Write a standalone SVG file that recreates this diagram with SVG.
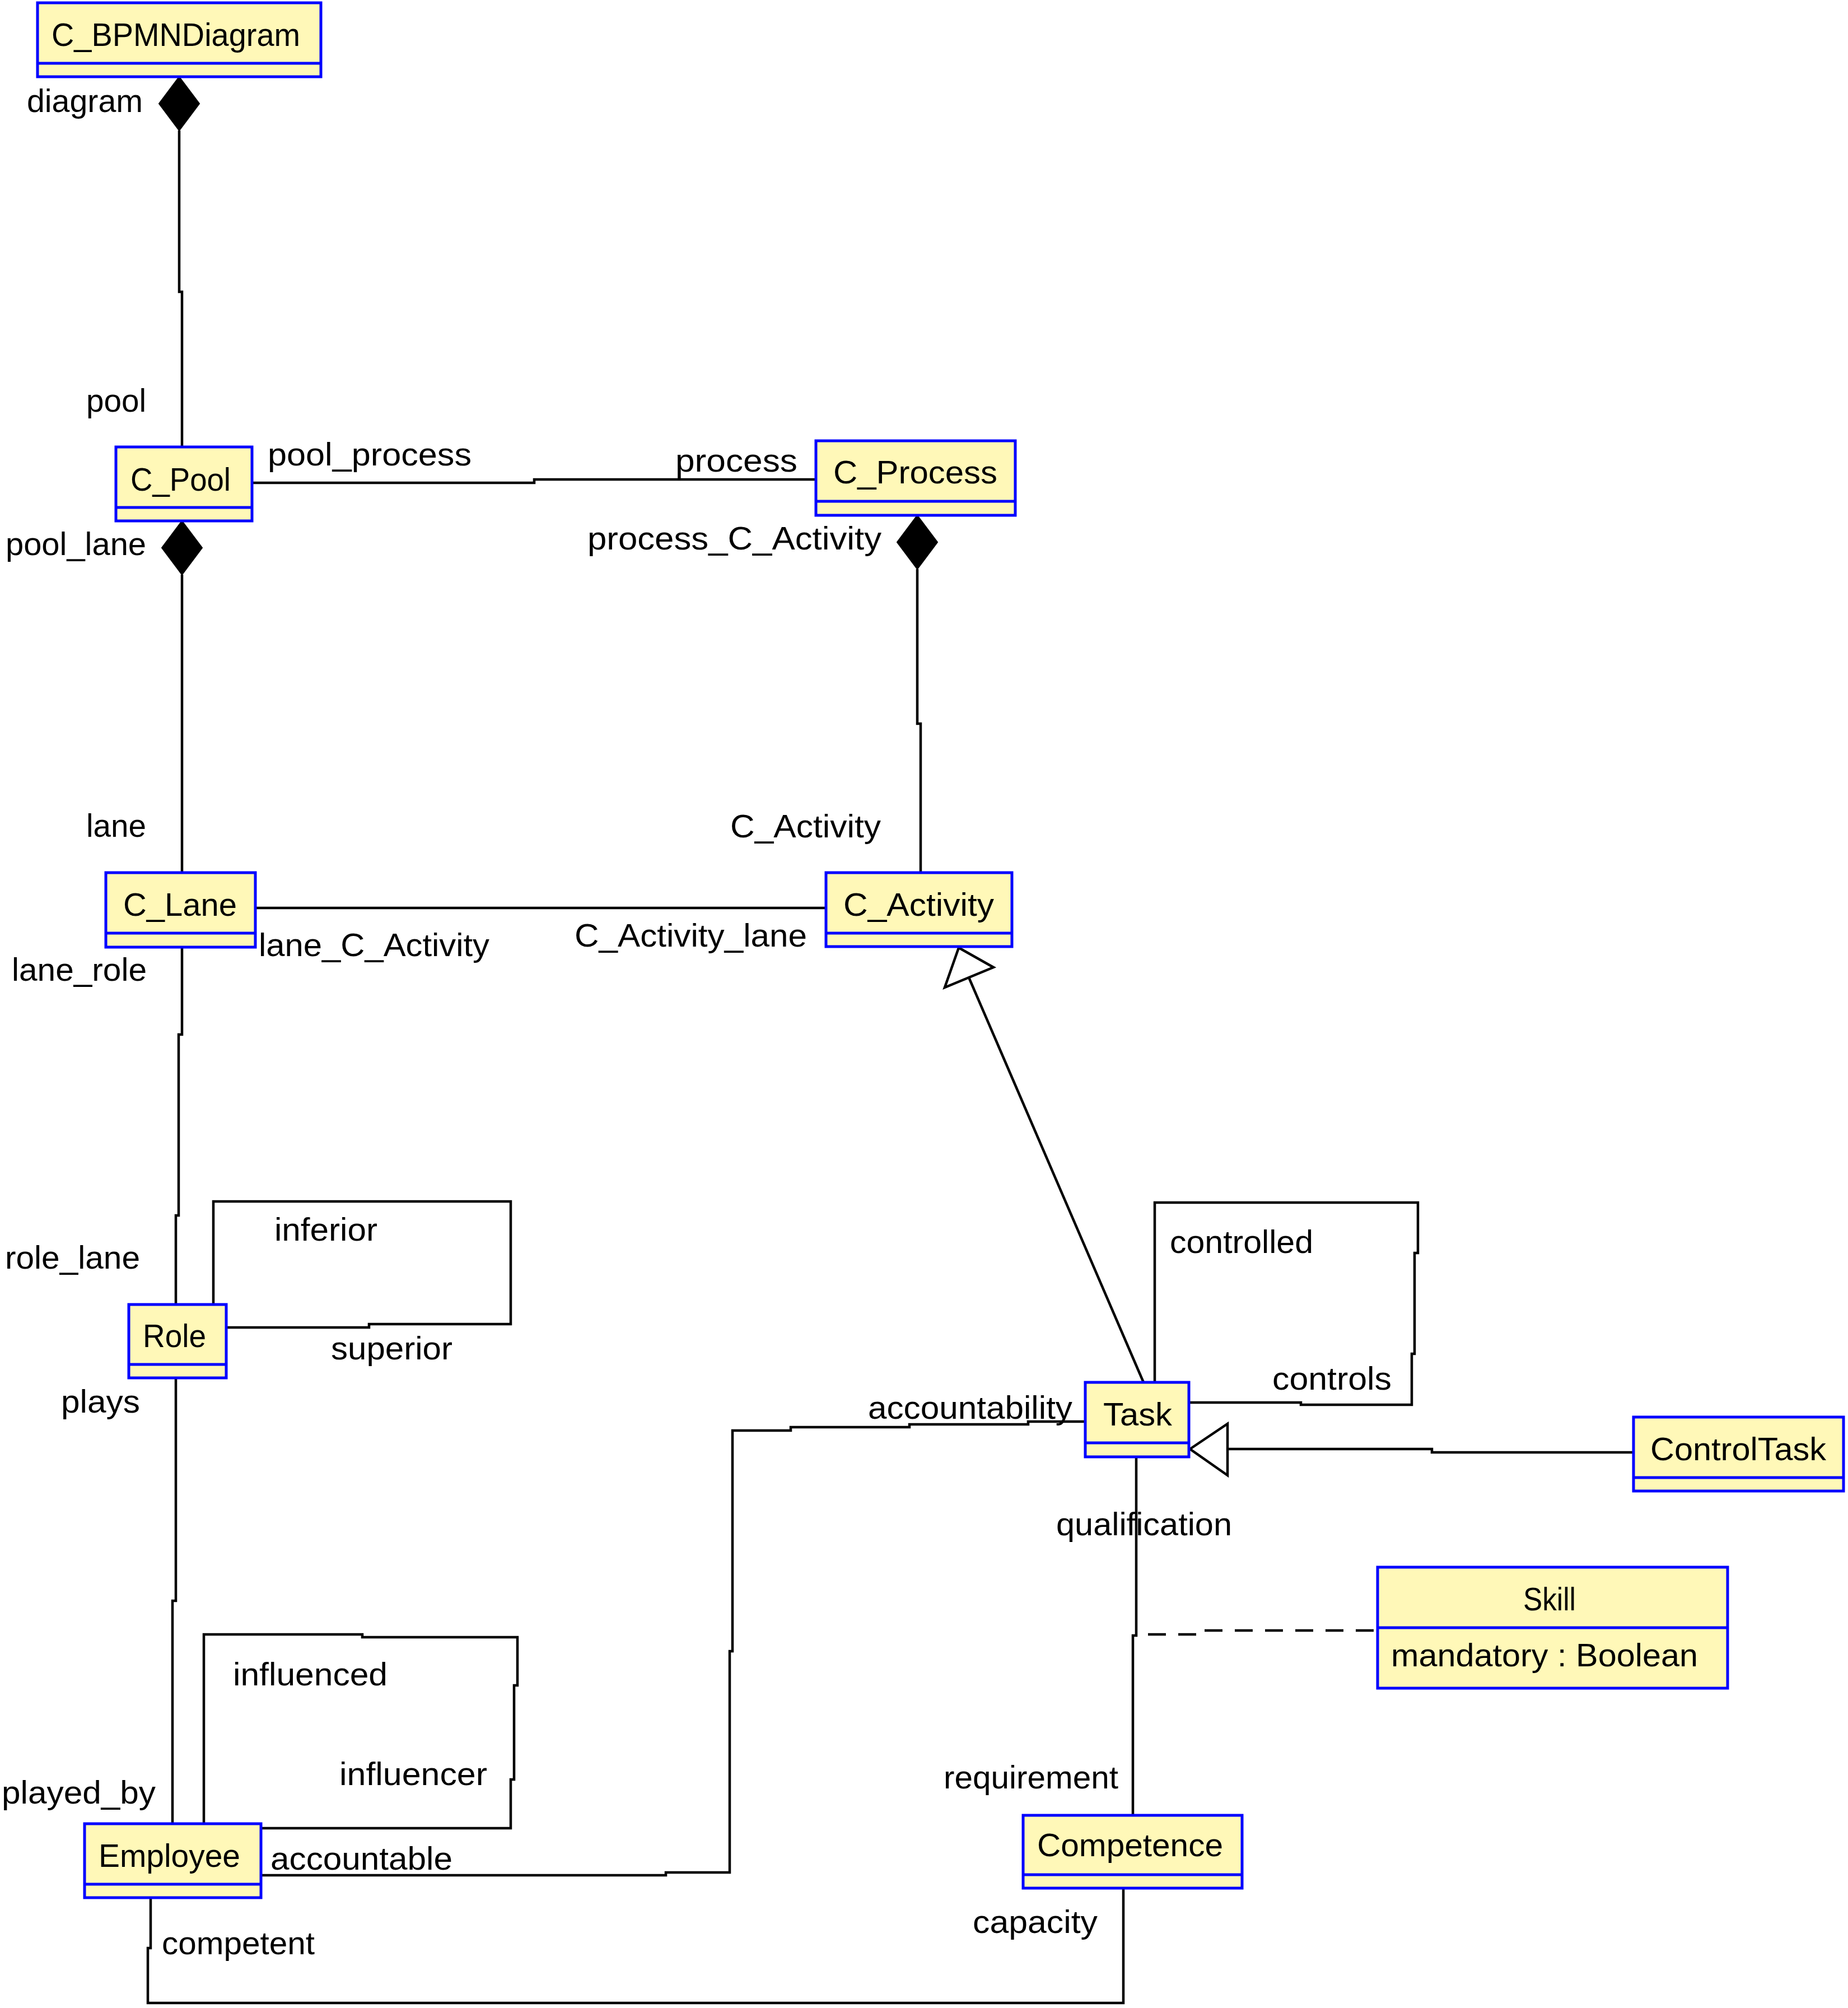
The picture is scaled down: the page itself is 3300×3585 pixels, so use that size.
<svg xmlns="http://www.w3.org/2000/svg" width="3300" height="3585" viewBox="0 0 3300 3585">
<style>
.box{fill:#FFF8B8;stroke:#0000FF;stroke-width:5}
.div{stroke:#0000FF;stroke-width:5}
.t{font-family:"Liberation Sans",Arial,sans-serif;font-size:58px;fill:#000}
.c{fill:none;stroke:#000;stroke-width:4.5}
.dash{fill:none;stroke:#000;stroke-width:4.5;stroke-dasharray:32 22}
.dia{fill:#000;stroke:#000;stroke-width:2}
.tri{fill:#fff;stroke:#000;stroke-width:4.5}
</style>
<rect width="3300" height="3585" fill="#fff"/>
<g id="connectors">
<path class="c" d="M320,233 V521 H325 V798"/>
<polygon class="dia" points="320,137 356,185 320,233 284,185"/>
<path class="c" d="M450,862 H954 V856 H1457"/>
<path class="c" d="M325,1026 V1558"/>
<polygon class="dia" points="325,930 361,978 325,1026 289,978"/>
<path class="c" d="M1638,1016 V1292 H1644 V1558"/>
<polygon class="dia" points="1638,920 1674,968 1638,1016 1602,968"/>
<path class="c" d="M456,1621 H1475"/>
<path class="c" d="M325,1691 V1847 H319 V2170 H314 V2329"/>
<path class="c" d="M381,2329 V2145 H912 V2364 H659 V2370 H404"/>
<path class="c" d="M314,2461 V2858 H308 V3256"/>
<path class="c" d="M364,3256 V2918 H647 V2923 H924 V3009 H918 V3177 H912 V3264 H466"/>
<path class="c" d="M466,3348 H1189 V3343 H1303 V2948 H1308 V2554 H1412 V2548 H1624 V2543 H1836 V2538 H1938"/>
<path class="c" d="M269,3388 V3478 H264 V3576 H2006 V3371"/>
<path class="c" d="M2062,2468 V2147 H2532 V2237 H2526 V2417 H2521 V2508 H2323 V2504 H2123"/>
<path class="c" d="M2029,2601 V2920 H2023 V3241"/>
<path class="dash" d="M2050,2918 H2150 V2911 H2460"/>
<path class="c" d="M2042,2468 L1730,1745"/>
<polygon class="tri" points="1712,1692 1774,1727 1687,1763"/>
<path class="c" d="M2917,2593 H2557 V2587 H2192"/>
<polygon class="tri" points="2125,2587 2192,2542 2192,2634"/>
</g>
<g id="labels">
<text class="t" x="48" y="200" textLength="207" lengthAdjust="spacingAndGlyphs">diagram</text>
<text class="t" x="154" y="735" textLength="107" lengthAdjust="spacingAndGlyphs">pool</text>
<text class="t" x="478" y="831" textLength="364" lengthAdjust="spacingAndGlyphs">pool_process</text>
<text class="t" x="1206" y="842" textLength="218" lengthAdjust="spacingAndGlyphs">process</text>
<text class="t" x="10" y="991" textLength="251" lengthAdjust="spacingAndGlyphs">pool_lane</text>
<text class="t" x="1049" y="981" textLength="525" lengthAdjust="spacingAndGlyphs">process_C_Activity</text>
<text class="t" x="154" y="1494" textLength="107" lengthAdjust="spacingAndGlyphs">lane</text>
<text class="t" x="1304" y="1495" textLength="269" lengthAdjust="spacingAndGlyphs">C_Activity</text>
<text class="t" x="462" y="1707" textLength="412" lengthAdjust="spacingAndGlyphs">lane_C_Activity</text>
<text class="t" x="1026" y="1690" textLength="415" lengthAdjust="spacingAndGlyphs">C_Activity_lane</text>
<text class="t" x="21" y="1751" textLength="241" lengthAdjust="spacingAndGlyphs">lane_role</text>
<text class="t" x="490" y="2215" textLength="184" lengthAdjust="spacingAndGlyphs">inferior</text>
<text class="t" x="9" y="2265" textLength="241" lengthAdjust="spacingAndGlyphs">role_lane</text>
<text class="t" x="591" y="2427" textLength="217" lengthAdjust="spacingAndGlyphs">superior</text>
<text class="t" x="109" y="2522" textLength="141" lengthAdjust="spacingAndGlyphs">plays</text>
<text class="t" x="416" y="3009" textLength="276" lengthAdjust="spacingAndGlyphs">influenced</text>
<text class="t" x="606" y="3187" textLength="264" lengthAdjust="spacingAndGlyphs">influencer</text>
<text class="t" x="3" y="3220" textLength="275" lengthAdjust="spacingAndGlyphs">played_by</text>
<text class="t" x="483" y="3338" textLength="325" lengthAdjust="spacingAndGlyphs">accountable</text>
<text class="t" x="289" y="3489" textLength="273" lengthAdjust="spacingAndGlyphs">competent</text>
<text class="t" x="2089" y="2237" textLength="256" lengthAdjust="spacingAndGlyphs">controlled</text>
<text class="t" x="2272" y="2481" textLength="213" lengthAdjust="spacingAndGlyphs">controls</text>
<text class="t" x="1550" y="2533" textLength="365" lengthAdjust="spacingAndGlyphs">accountability</text>
<text class="t" x="1886" y="2741" textLength="314" lengthAdjust="spacingAndGlyphs">qualification</text>
<text class="t" x="1685" y="3193" textLength="312" lengthAdjust="spacingAndGlyphs">requirement</text>
<text class="t" x="1737" y="3451" textLength="223" lengthAdjust="spacingAndGlyphs">capacity</text>
</g>
<g id="C_BPMNDiagram">
<rect class="box" x="67" y="5" width="506" height="132"/>
<line class="div" x1="67" y1="113" x2="573" y2="113"/>
<text class="t" x="92" y="82" textLength="444" lengthAdjust="spacingAndGlyphs">C_BPMNDiagram</text>
</g>
<g id="C_Pool">
<rect class="box" x="207" y="798" width="243" height="132"/>
<line class="div" x1="207" y1="906" x2="450" y2="906"/>
<text class="t" x="233" y="876" textLength="179" lengthAdjust="spacingAndGlyphs">C_Pool</text>
</g>
<g id="C_Process">
<rect class="box" x="1457" y="787" width="356" height="133"/>
<line class="div" x1="1457" y1="895" x2="1813" y2="895"/>
<text class="t" x="1488" y="863" textLength="293" lengthAdjust="spacingAndGlyphs">C_Process</text>
</g>
<g id="C_Lane">
<rect class="box" x="189" y="1558" width="267" height="133"/>
<line class="div" x1="189" y1="1666" x2="456" y2="1666"/>
<text class="t" x="220" y="1635" textLength="203" lengthAdjust="spacingAndGlyphs">C_Lane</text>
</g>
<g id="C_Activity">
<rect class="box" x="1475" y="1558" width="332" height="132"/>
<line class="div" x1="1475" y1="1666" x2="1807" y2="1666"/>
<text class="t" x="1506" y="1635" textLength="269" lengthAdjust="spacingAndGlyphs">C_Activity</text>
</g>
<g id="Role">
<rect class="box" x="230" y="2329" width="174" height="131"/>
<line class="div" x1="230" y1="2436" x2="404" y2="2436"/>
<text class="t" x="255" y="2405" textLength="113" lengthAdjust="spacingAndGlyphs">Role</text>
</g>
<g id="Employee">
<rect class="box" x="151" y="3256" width="315" height="132"/>
<line class="div" x1="151" y1="3364" x2="466" y2="3364"/>
<text class="t" x="176" y="3333" textLength="253" lengthAdjust="spacingAndGlyphs">Employee</text>
</g>
<g id="Task">
<rect class="box" x="1938" y="2468" width="185" height="133"/>
<line class="div" x1="1938" y1="2576" x2="2123" y2="2576"/>
<text class="t" x="1970" y="2545" textLength="123" lengthAdjust="spacingAndGlyphs">Task</text>
</g>
<g id="ControlTask">
<rect class="box" x="2917" y="2530" width="375" height="132"/>
<line class="div" x1="2917" y1="2638" x2="3292" y2="2638"/>
<text class="t" x="2947" y="2607" textLength="314" lengthAdjust="spacingAndGlyphs">ControlTask</text>
</g>
<g id="Skill">
<rect class="box" x="2460" y="2798" width="625" height="216"/>
<line class="div" x1="2460" y1="2906" x2="3085" y2="2906"/>
<text class="t" x="2720" y="2875" textLength="94" lengthAdjust="spacingAndGlyphs">Skill</text>
<text class="t" x="2484" y="2975" textLength="548" lengthAdjust="spacingAndGlyphs">mandatory : Boolean</text>
</g>
<g id="Competence">
<rect class="box" x="1827" y="3241" width="391" height="130"/>
<line class="div" x1="1827" y1="3347" x2="2218" y2="3347"/>
<text class="t" x="1852" y="3314" textLength="332" lengthAdjust="spacingAndGlyphs">Competence</text>
</g>
</svg>
